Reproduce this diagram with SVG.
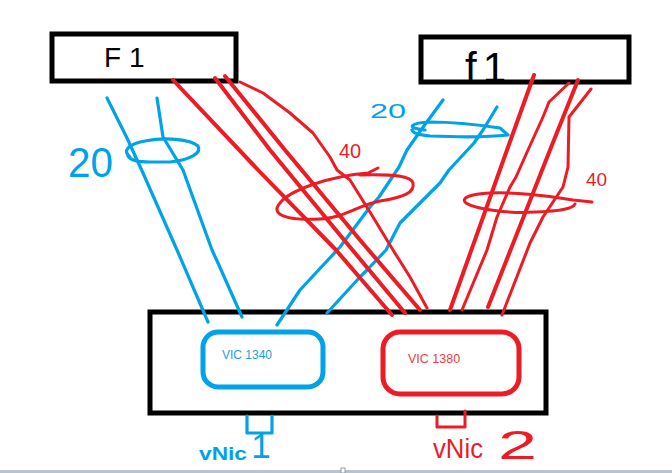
<svg xmlns="http://www.w3.org/2000/svg" width="672" height="473" viewBox="0 0 672 473">
<style>
.box{fill:none;stroke:#000;stroke-width:5}
.b{fill:none;stroke:#00a2e8;stroke-width:3.2;stroke-linecap:round;stroke-linejoin:round}
.r{fill:none;stroke:#ed1c24;stroke-width:4;stroke-linecap:round;stroke-linejoin:round}
.rt{fill:none;stroke:#ed1c24;stroke-width:3;stroke-linecap:round;stroke-linejoin:round}
.hand{font-family:"Liberation Sans",Arial,sans-serif}
.typ{font-family:"Liberation Sans",Arial,sans-serif}
</style>
<rect width="672" height="473" fill="#fff"/>
<g id="f1-left">
  <rect class="box" x="52" y="34" width="184" height="47"/>
  <text class="hand" x="104" y="67" font-size="28" letter-spacing="8" fill="#000">F1</text>
</g>
<g id="f1-right">
  <rect class="box" x="421" y="37" width="208" height="45"/>
  <text class="hand" x="465" y="82" font-size="42" letter-spacing="6" fill="#000">f1</text>
</g>
<g id="host">
  <rect class="box" x="150" y="312" width="396" height="101"/>
</g>
<g id="vic1340">
  <rect x="203" y="332" width="120" height="55" rx="15" fill="none" stroke="#00a2e8" stroke-width="5"/>
  <text class="typ" x="222" y="359" font-size="12" fill="#1ba1e2">VIC 1340</text>
</g>
<g id="vic1380">
  <rect x="383" y="332" width="136" height="62" rx="17" fill="none" stroke="#ed1c24" stroke-width="5"/>
  <text class="typ" x="408" y="363" font-size="12.5" fill="#ed3b44">VIC 1380</text>
</g>
<g id="connectors">
  <path class="b" d="M107,98 L127,138 L143,173 L177,250 L208,322"/>
  <path class="b" d="M157,98 L163,137 L183,170 L212,250 L218,263 L242,317"/>
  <path class="b" d="M443,100 L421,130 L407,150 L399,167 L379,197 L370,207 L340,247 L300,290 L277,325"/>
  <path class="b" d="M497,107 L483,130 L474,143 L449,170 L440,183 L416,207 L400,223 L386,250 L367,270 L360,277 L327,313"/>
  <path class="r" d="M173,80 L260,172 L336,250 L392,315"/>
  <path class="r" d="M215,78 L270,150 L340,235 L405,313"/>
  <path class="r" d="M225,76 L285,150 L360,240 L420,310"/>
  <path class="rt" d="M240,82 L263,93 L290,113 L313,133 L330,157 L337,170 L350,180 L373,217 L393,250 L410,277 L427,308"/>
  <path class="r" d="M534,75 L507,150 L450,310"/>
  <path class="rt" d="M569,83 L549,102 L543,117 L528,150 L516,177 L510,187 L497,217 L487,250 L462,310"/>
  <path class="r" d="M578,80 L550,150 L488,307"/>
  <path class="rt" d="M591,89 L569,117 L568,167 L563,187 L543,217 L530,243 L502,315"/>
</g>
<g id="bundle-labels">
  <path class="b" d="M130,157 C122,151 128,144 145,141 C165,137 190,139 198,146 C202,153 190,160 170,162 L150,162 C138,162 130,160 128,156"/>
  <text class="hand" x="68" y="177" font-size="42" fill="#00a2e8" textLength="45" lengthAdjust="spacingAndGlyphs">20</text>
  <path class="b" d="M425,130 C405,128 410,123 430,122 C455,122 480,125 500,128 L508,135 C490,137 455,137 430,136 C418,135 413,133 412,130"/>
  <text class="hand" x="370" y="118" font-size="20" fill="#00a2e8" textLength="36" lengthAdjust="spacingAndGlyphs">20</text>
  <path class="rt" d="M378,168 L368,173 C330,176 290,190 280,203 C270,214 285,221 320,219 C345,218 358,205 380,201 C405,197 415,192 413,183 C411,176 395,174 360,175"/>
  <text class="typ" x="339" y="158" font-size="20" fill="#ed1c24">40</text>
  <path class="rt" d="M592,202 L573,200 C545,195 510,192 490,193 C470,194 460,198 466,203 C475,209 510,214 535,212 C560,211 573,209 575,204"/>
  <text class="typ" x="586" y="186" font-size="19" fill="#ed1c24">40</text>
</g>
<g id="vnic1">
  <path class="b" d="M247,416 L247,433 L272,433 L272,416"/>
  <text class="hand" x="261" y="458" font-size="35" fill="#00a2e8" text-anchor="middle">1</text>
  <text class="hand" x="199" y="460" font-size="18" font-weight="bold" fill="#00a2e8" textLength="48" lengthAdjust="spacingAndGlyphs">vNic</text>
</g>
<g id="vnic2">
  <path class="rt" d="M437,416 L437,427 L465,427 L465,411"/>
  <text class="hand" x="433" y="458" font-size="28" fill="#ed1c24" textLength="50" lengthAdjust="spacingAndGlyphs">vNic</text>
  <text class="hand" x="498" y="459" font-size="40" fill="#ed1c24" textLength="39" lengthAdjust="spacingAndGlyphs">2</text>
</g>
<rect x="0" y="470" width="672" height="3" fill="#b9c3cf"/>
<rect x="341" y="468" width="4" height="5" fill="#fff" stroke="#888" stroke-width="0.8"/>
</svg>
